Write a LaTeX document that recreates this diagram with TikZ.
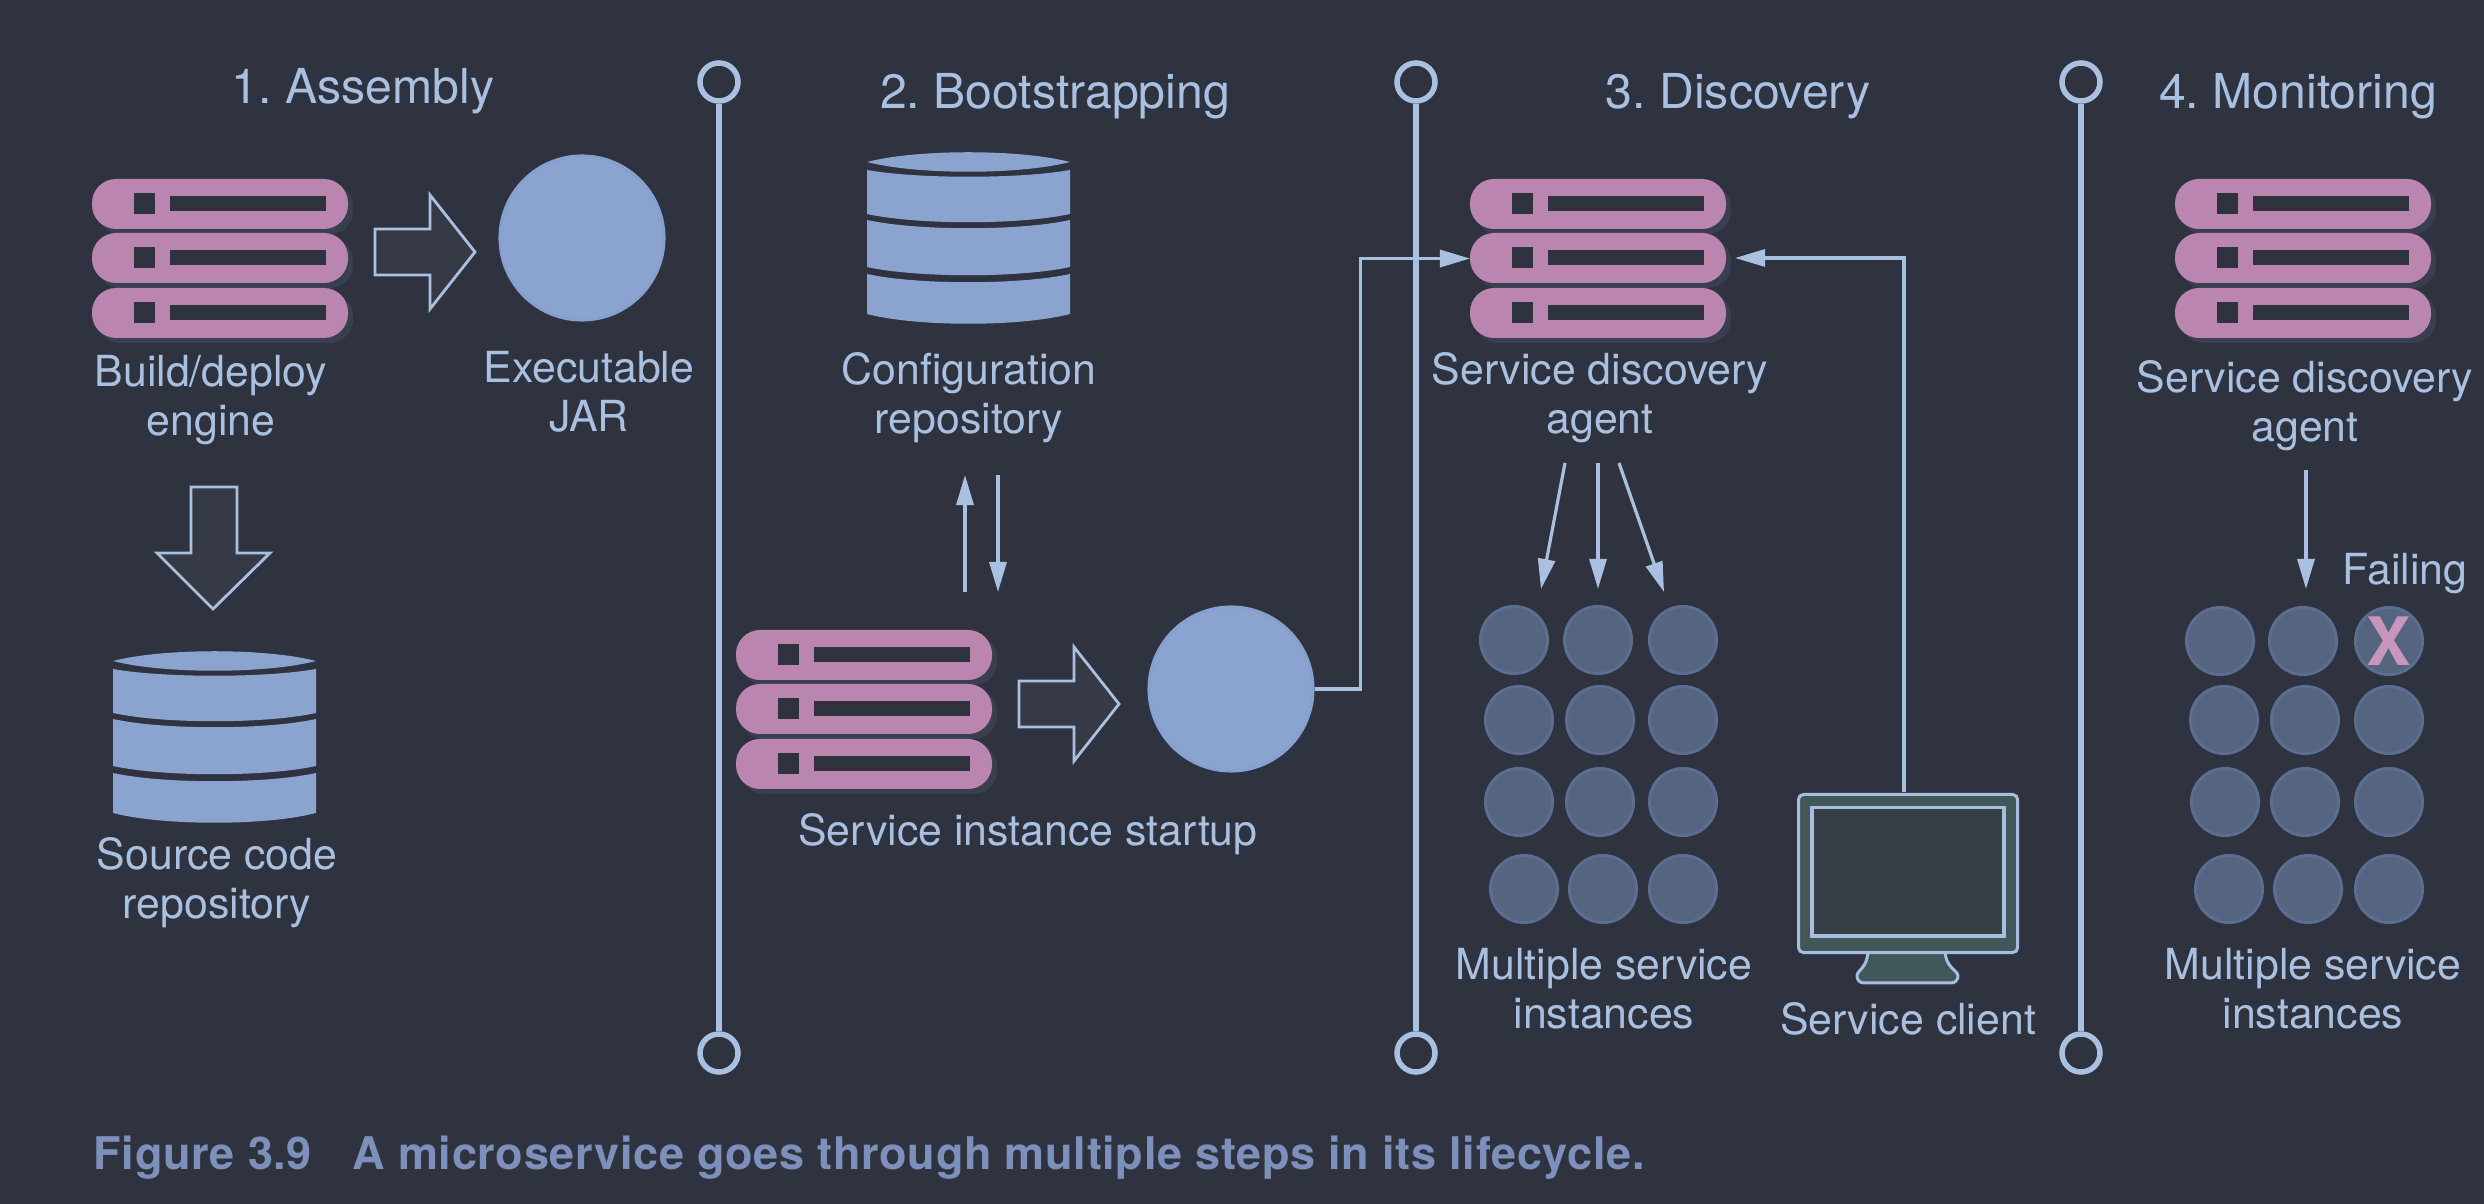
\documentclass[tikz,border=0pt]{standalone}
\usepackage{fontspec}
\setmainfont{TeX Gyre Heros}
\newfontfamily\capfont[FakeStretch=1.0,LetterSpace=1.5]{TeX Gyre Heros Bold}
\usetikzlibrary{arrows.meta,calc}
\definecolor{bg}{HTML}{2F3340}
\definecolor{shad}{HTML}{3A3F50}
\definecolor{pinkbar}{HTML}{BA86AF}
\definecolor{lineb}{HTML}{A9C0E0}
\definecolor{blue}{HTML}{8BA3CF}
\definecolor{blueedge}{HTML}{86A0D0}
\definecolor{inst}{HTML}{556580}
\definecolor{instedge}{HTML}{5B6D90}
\definecolor{blockfill}{HTML}{363A47}
\definecolor{capc}{HTML}{7D90BC}
\definecolor{monout}{HTML}{425759}
\definecolor{monin}{HTML}{363F46}
\definecolor{xpink}{HTML}{C896BD}
\tikzset{
  x=0.01cm,y=-0.01cm,
  txt/.style={text=lineb,anchor=base,align=center,inner sep=0pt,font=\frenchspacing\fontsize{12.18}{13.94}\selectfont},
  hd/.style={text=lineb,anchor=base,inner sep=0pt,font=\frenchspacing\fontsize{13.7}{16}\selectfont},
  ring/.style={circle,draw=lineb,line width=0.055cm,minimum size=0.38cm,inner sep=0pt,fill=bg},
  vline/.style={draw=lineb,line width=0.055cm},
  conn/.style={draw=lineb,line width=0.032cm,-{Triangle[length=0.3cm,width=0.17cm]}},
  jar/.style={circle,draw=blueedge,fill=blue,line width=0.03cm,minimum size=1.64cm,inner sep=0pt},
  instance/.style={circle,draw=instedge,fill=inst,line width=0.03cm,minimum size=0.67cm,inner sep=0pt},
  block/.style={draw=lineb,fill=blockfill,line width=0.028cm},
  serverstack/.pic={
    \node[minimum width=2.56cm,minimum height=1.59cm,inner sep=0pt,outer sep=0pt,anchor=north west] (-box) at (0,0) {};
    \foreach \yy in {0,54,109}{
      \fill[shad,rounded corners=0.23cm] (5,\yy+5) rectangle ++(256,50);
    }
    \foreach \yy in {0,54,109}{
      \fill[pinkbar,rounded corners=0.24cm] (0,\yy) rectangle ++(256,50);
      \fill[bg] (42,\yy+14) rectangle ++(21,21);
      \fill[bg] (78,\yy+17) rectangle ++(156,15);
    }
  },
  dbcyl/.pic={
    \fill[blue] (0,10) .. controls (50,-3) and (153,-3) .. (203,10) .. controls (153,23) and (50,23) .. (0,10) -- cycle;
    \fill[blue] (0,18) .. controls (50,27) and (153,27) .. (203,18) -- (203,62) .. controls (153,73) and (50,73) .. (0,62) -- cycle;
    \fill[blue] (0,68) .. controls (50,79) and (153,79) .. (203,68) -- (203,115) .. controls (153,126) and (50,126) .. (0,115) -- cycle;
    \fill[blue] (0,122) .. controls (50,133) and (153,133) .. (203,122) -- (203,162) .. controls (153,175) and (50,175) .. (0,162) -- cycle;
  },
  rightblock/.pic={
    \draw[block,line join=miter] (1,36) -- (56,36) -- (56,2) -- (101,59) -- (56,116) -- (56,82) -- (1,82) -- cycle;
  },
}
\begin{document}
\begin{tikzpicture}
\useasboundingbox (0,0) rectangle (2484,1204);
\fill[bg] (0,0) rectangle (2484,1204);

% dividers
\foreach \n/\xx in {1/719,2/1416,3/2081}{
  \node[ring] (top\n) at (\xx,82) {};
  \node[ring] (bot\n) at (\xx,1053) {};
  \draw[vline] (top\n) -- (bot\n);
}

% headings
\node[hd] (h1) at (363,104) {1. Assembly};
\node[hd] (h2) at (1055,109) {2. Bootstrapping};
\node[hd] (h3) at (1738,109) {3. Discovery};
\node[hd] (h4) at (2298,109) {4. Monitoring};

% column 1
\pic (s1) at (92,179) {serverstack};
\pic at (374,193) {rightblock};
\node[jar] (jar1) at (582,238) {};
\node[txt] (t1) at (211,436) {Build/deploy\\engine};
\node[txt] (t2) at (589,432) {Executable\\JAR};
\draw[block] (191,487) -- (237,487) -- (237,553) -- (270,553) -- (213,609) -- (157,553) -- (191,553) -- cycle;
\pic at (113,651) {dbcyl};
\node[txt] (t3) at (217,919) {Source code\\repository};

% column 2
\pic at (867,152) {dbcyl};
\node[txt] (t4) at (969,434) {Configuration\\repository};
\coordinate (upS) at (965,592); \coordinate (upE) at (965,475);
\coordinate (dnS) at (998,475); \coordinate (dnE) at (998,592);
\draw[conn] (upS) -- (upE);
\draw[conn] (dnS) -- (dnE);
\pic (s2) at (736,630) {serverstack};
\pic at (1018,645) {rightblock};
\node[jar] (jar2) at (1231,689) {};
\node[txt] (t5) at (1028,846) {Service instance startup};

% column 3
\pic (s3) at (1470,179) {serverstack};
\node[txt] (t6) at (1600,434) {Service discovery\\agent};
\foreach \n/\xx/\yy in {a/1514/640,b/1598/640,c/1683/640,d/1519/720,e/1600/720,f/1683/720,g/1519/802,h/1600/802,i/1683/802,j/1524/889,k/1603/889,l/1683/889}{
  \node[instance] (m\n) at (\xx,\yy) {};
}
\node[txt] (t7) at (1604,1029) {Multiple service\\instances};
\coordinate (d1S) at (1565,463); \coordinate (d1E) at (1541,589);
\coordinate (d2S) at (1598,463); \coordinate (d2E) at (1598,589);
\coordinate (d3S) at (1619,463); \coordinate (d3E) at (1664,592);
\draw[conn] (d1S) -- (d1E);
\draw[conn] (d2S) -- (d2E);
\draw[conn] (d3S) -- (d3E);
\draw[conn] (jar2.east) -- ++(46,0) |- (s3-box.west);

% client
\filldraw[draw=lineb!92!blue,fill=monout,line width=0.03cm,line join=round]
  (1868,950) .. controls (1868,968) and (1857,970) .. (1857,976) .. controls (1857,980) and (1860,983) .. (1864,983)
  -- (1951,983) .. controls (1955,983) and (1958,980) .. (1958,976) .. controls (1958,970) and (1945,968) .. (1945,950) -- cycle;
\node[draw=lineb!92!blue,fill=monout,line width=0.03cm,rounded corners=0.05cm,minimum width=2.19cm,minimum height=1.58cm,inner sep=0pt,anchor=north west] (mon) at (1797,793) {};
\node[draw=lineb!92!blue,fill=monin,line width=0.035cm,minimum width=1.92cm,minimum height=1.28cm,inner sep=0pt,anchor=north west] (scr) at (1810,806) {};
\coordinate (monTop) at (1904,792);
\coordinate (agentE) at (1735,258);
\draw[conn] (monTop) |- (agentE);
\node[txt] (t8) at (1908,1035) {Service client};

% column 4
\pic (s4) at (2175,179) {serverstack};
\node[txt] (t9) at (2305,442) {Service discovery\\agent};
\coordinate (mS) at (2306,470); \coordinate (mE) at (2306,589);
\draw[conn] (mS) -- (mE);
\node[txt] (t10) at (2405,585) {Failing};
\foreach \n/\xx/\yy in {a/2220/641,b/2303/641,c/2389/641,d/2224/720,e/2305/720,f/2389/720,g/2225/802,h/2305/802,i/2389/802,j/2229/889,k/2308/889,l/2389/889}{
  \node[instance] (n\n) at (\xx,\yy) {};
}
\node[text=xpink,inner sep=0pt,font=\fontsize{19}{19}\selectfont\bfseries] (x) at (nc) {X};
\node[txt] (t11) at (2313,1029) {Multiple service\\instances};

% caption
\node[anchor=base west,inner sep=0pt,text=capc,font=\frenchspacing\capfont\fontsize{12.8}{15}\selectfont] (cap) at (93,1170) {Figure 3.9\hspace{0.9em}A microservice goes through multiple steps in its lifecycle.};
\end{tikzpicture}
\end{document}
